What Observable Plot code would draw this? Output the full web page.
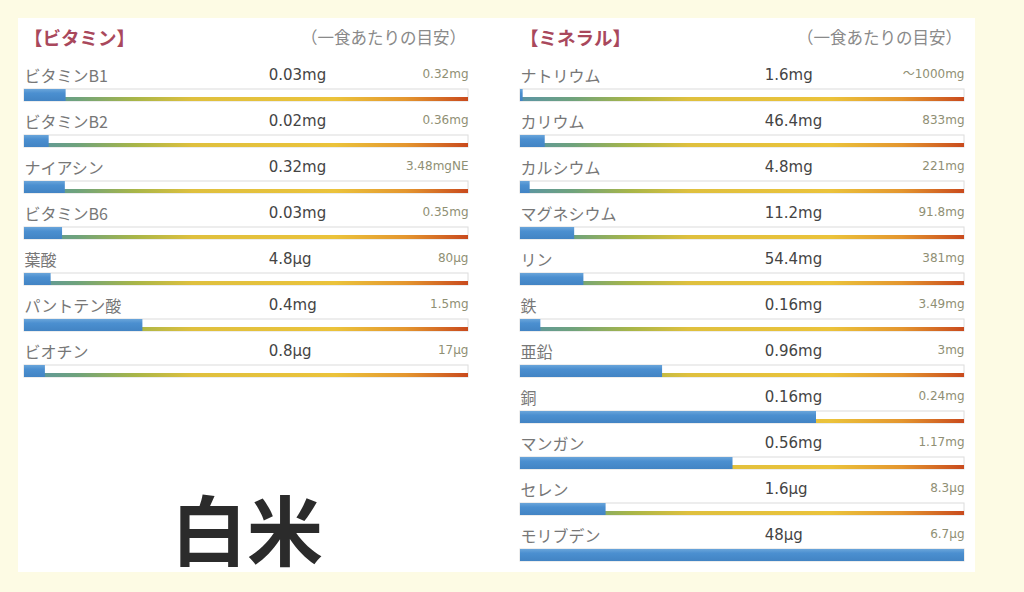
<!DOCTYPE html>
<html>
<head>
<meta charset="utf-8">
<script src="https://cdn.jsdelivr.net/npm/d3@7"></script>
<script src="https://cdn.jsdelivr.net/npm/@observablehq/plot@0.6"></script>
<style>
  body { margin: 0; background: #fdfbe4; }
  #page { position: relative; width: 1024px; height: 592px; overflow: hidden; background: #fdfbe4; font-family: "Noto Sans CJK JP", sans-serif; }
  #card { position: absolute; left: 18px; top: 18px; width: 957px; height: 554px; background: #ffffff; }
  .head { position: absolute; top: 23px; font-size: 18.5px; font-weight: bold; color: #a9485c; line-height: 28px; white-space: nowrap; }
  .note { position: absolute; top: 23px; width: 220px; font-size: 16.5px; color: #8a8a8a; line-height: 28px; text-align: right; white-space: nowrap; }
  .plot { position: absolute; top: 0; }
  #food { position: absolute; left: 171px; top: 489px; font-size: 76px; line-height: 76px; font-weight: bold; color: #2b2b2b; white-space: nowrap; }
</style>
</head>
<body>
<div id="page">
  <div id="card"></div>
  <div class="head" style="left:24px">【ビタミン】</div>
  <div class="note" style="left:246px">（一食あたりの目安）</div>
  <div class="head" style="left:520px">【ミネラル】</div>
  <div class="note" style="left:742px">（一食あたりの目安）</div>
  <div class="plot" id="left" style="left:0px"></div>
  <div class="plot" id="right" style="left:496px"></div>
  <div id="food">白米</div>
</div>
<script>
// ---- Vitamins ----
const vitaminNames = ["ビタミンB1", "ビタミンB2", "ナイアシン", "ビタミンB6", "葉酸", "パントテン酸", "ビオチン"];
const vitaminAmounts = [0.03, 0.02, 0.32, 0.03, 4.8, 0.4, 0.8];
const vitaminUnits = ["mg", "mg", "mg", "mg", "μg", "mg", "μg"];
const vitaminTargets = [0.32, 0.36, 3.48, 0.35, 80, 1.5, 17];
const vitaminTargetLabels = ["0.32mg", "0.36mg", "3.48mgNE", "0.35mg", "80μg", "1.5mg", "17μg"];

// ---- Minerals ----
const mineralNames = ["ナトリウム", "カリウム", "カルシウム", "マグネシウム", "リン", "鉄", "亜鉛", "銅", "マンガン", "セレン", "モリブデン"];
const mineralAmounts = [1.6, 46.4, 4.8, 11.2, 54.4, 0.16, 0.96, 0.16, 0.56, 1.6, 48];
const mineralUnits = ["mg", "mg", "mg", "mg", "mg", "mg", "mg", "mg", "mg", "μg", "μg"];
const mineralTargets = [1000, 833, 221, 91.8, 381, 3.49, 3, 0.24, 1.17, 8.3, 6.7];
const mineralTargetLabels = ["～1000mg", "833mg", "221mg", "91.8mg", "381mg", "3.49mg", "3mg", "0.24mg", "1.17mg", "8.3μg", "6.7μg"];

const gradStops = [
  [0, "#5a94a6"], [0.12, "#6fa37c"], [0.25, "#a8b648"], [0.38, "#dfc03e"],
  [0.7, "#ebc33b"], [0.86, "#e4962f"], [1, "#c94a1d"]
];

function defsMark(id) {
  return () => {
    const defs = d3.create("svg:defs");
    const g = defs.append("linearGradient").attr("id", id + "-grad").attr("x1", 0).attr("x2", 1).attr("y1", 0).attr("y2", 0);
    for (const [o, c] of gradStops) g.append("stop").attr("offset", o).attr("stop-color", c);
    const b = defs.append("linearGradient").attr("id", id + "-blue").attr("x1", 0).attr("x2", 0).attr("y1", 0).attr("y2", 1);
    b.append("stop").attr("offset", 0).attr("stop-color", "#6aa5da");
    b.append("stop").attr("offset", 0.35).attr("stop-color", "#4b8fd0");
    b.append("stop").attr("offset", 1).attr("stop-color", "#4284c4");
    return defs.node();
  };
}

function panel(id, names, amounts, units, targets, targetLabels) {
  const rows = names.map((name, i) => ({
    name,
    amount: amounts[i] + units[i],
    ratio: Math.max(Math.min(amounts[i] / targets[i], 1), 0.006),
    target: targetLabels[i]
  }));
  const top = 60, pitch = 46;
  return Plot.plot({
    width: 496,
    height: 592,
    margin: 0,
    style: { background: "transparent", overflow: "visible" },
    x: { domain: [0, 1], range: [24, 468], axis: null },
    y: { domain: names, range: [top, top + names.length * pitch], padding: 0, axis: null },
    marks: [
      defsMark(id),
      Plot.barX(rows, { x1: 0, x2: 1, y: "name", insetTop: 29, insetBottom: 5, fill: "#ffffff", stroke: "#dcdcdc", strokeWidth: 1 }),
      Plot.barX(rows, { x1: 0, x2: 1, y: "name", insetTop: 37, insetBottom: 5, fill: `url(#${id}-grad)` }),
      Plot.barX(rows, { x1: 0, x2: "ratio", y: "name", insetTop: 29, insetBottom: 5, fill: `url(#${id}-blue)` }),
      Plot.text(rows, { x: 0, y: "name", text: "name", textAnchor: "start", dy: -7, fontSize: 16, fill: "#777777", fontFamily: "Noto Sans CJK JP" }),
      Plot.text(rows, { x: 0.55, y: "name", text: "amount", textAnchor: "start", dy: -8, fontSize: 15, fill: "#444444", fontFamily: "DejaVu Sans, Noto Sans CJK JP" }),
      Plot.text(rows, { x: 1, y: "name", text: "target", textAnchor: "end", dy: -9, fontSize: 12, fill: "#8f8f74", fontFamily: "DejaVu Sans, Noto Sans CJK JP" })
    ]
  });
}

document.getElementById("left").append(panel("vit", vitaminNames, vitaminAmounts, vitaminUnits, vitaminTargets, vitaminTargetLabels));
document.getElementById("right").append(panel("min", mineralNames, mineralAmounts, mineralUnits, mineralTargets, mineralTargetLabels));
</script>
</body>
</html>
